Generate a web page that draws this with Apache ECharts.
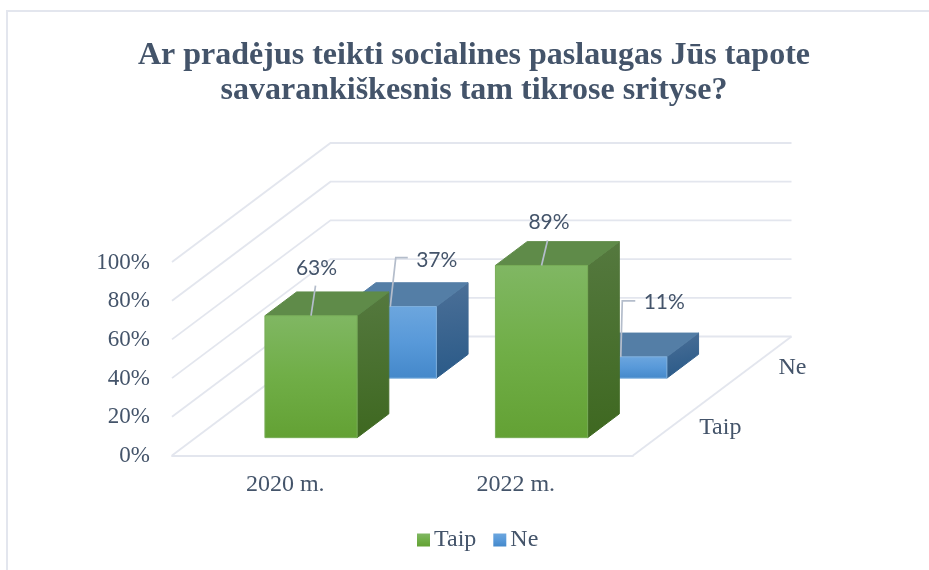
<!DOCTYPE html>
<html><head><meta charset="utf-8">
<style>html,body{margin:0;padding:0;background:#fff}#c{width:929px;height:570px}</style>
<script src="https://cdn.jsdelivr.net/npm/echarts@6/dist/echarts.min.js"></script>
</head><body><div id="c"></div>
<script>
const titleText = 'Ar pradėjus teikti socialines paslaugas Jūs tapote\nsavarankiškesnis tam tikrose srityse?';
const categories = ['2020 m.', '2022 m.'];
const depthRows = ['Taip', 'Ne'];
const taipValues = [63, 89];
const neValues = [37, 11];
const yTicks = [0, 20, 40, 60, 80, 100];

const DX = 158.5, DY = 119, BAR_W = 0.4, BAR_D = 0.2;
const TEXT = '#44546A', GRID = '#E3E6EE', SERIF = '"Liberation Serif"', SANS = 'Lato';
const lg = (stops, x2, y2) => new echarts.graphic.LinearGradient(0, 0, x2 || 0, y2 === undefined ? 1 : y2,
  stops.map((c, i) => ({offset: i / (stops.length - 1), color: c})));

const palette = {
  Taip: {front: ['#80B763', '#70AE47', '#63A134'], top: '#5F8B49', side: ['#55793F', '#3E6820'], edge: '#78AD58'},
  Ne: {front: ['#6CA6DE', '#5899D9', '#4488CA'], top: '#547EA6', side: ['#4C7098', '#2A5A88'], edge: '#7FB0DD'}
};
// Leader-line and label offsets from the top-centre of each bar's front face
const leaders = {
  Taip: [{pts: [[4.5, -30]], lab: [5.5, -48]}, {pts: [[6, -25]], lab: [7.5, -43]}],
  Ne: [{pts: [[5.5, -49], [17.5, -49]], lab: [46.5, -46]}, {pts: [[1.5, -56], [14.5, -56]], lab: [43.5, -55]}]
};

function barSeries(name, rowIndex, values) {
  const pal = palette[name], ld = leaders[name];
  return {
    type: 'custom', name, coordinateSystem: 'cartesian2d', clip: false,
    z: 3 - rowIndex,
    itemStyle: {color: lg(pal.front)},
    data: values.map((v, i) => [i, v]),
    encode: {x: 0, y: 1},
    renderItem(params, api) {
      const i = api.value(0), v = api.value(1);
      const band = api.size([1, 0])[0];
      const t = (rowIndex + 0.5) / 2 - BAR_D / 2;
      const c0 = api.coord([i, 0]), c1 = api.coord([i, v]);
      const ox = t * DX, oy = t * DY, w = band * BAR_W;
      const x0 = c0[0] - w / 2 + ox, x1 = x0 + w, yb = c0[1] - oy, yt = c1[1] - oy;
      const dx = BAR_D * DX, dy = BAR_D * DY;
      const poly = (points, fill, stroke) => ({type: 'polygon', shape: {points},
        style: {fill, stroke: stroke || fill, lineWidth: 1}});
      const cx = (x0 + x1) / 2;
      const ldr = ld[i];
      const path = [[cx, yt]].concat(ldr.pts.map(p => [cx + p[0], yt + p[1]]));
      return {type: 'group', children: [
        poly([[x1, yb], [x1 + dx, yb - dy], [x1 + dx, yt - dy], [x1, yt]], lg(pal.side, 0.35, 1)),
        poly([[x0, yt], [x1, yt], [x1 + dx, yt - dy], [x0 + dx, yt - dy]], pal.top),
        {type: 'rect', shape: {x: x0, y: yt, width: w, height: yb - yt},
          style: {fill: lg(pal.front), stroke: pal.edge, lineWidth: 1}},
        {type: 'polyline', shape: {points: path}, style: {fill: 'none', stroke: '#B4BDCB', lineWidth: 1.7}},
        {type: 'text', x: cx + ldr.lab[0], y: yt + ldr.lab[1],
          style: {text: v + '%', fill: TEXT, font: '21px ' + SANS, align: 'center', verticalAlign: 'middle'}}
      ]};
    }
  };
}

const wallSeries = {
  type: 'custom', coordinateSystem: 'cartesian2d', clip: false, silent: true, z: 1,
  data: yTicks.map(v => [0, v]), encode: {y: 1},
  renderItem(params, api) {
    const v = api.value(1), cs = params.coordSys, y = api.coord([0, v])[1];
    const l = cs.x, r = cs.x + cs.width;
    const style = {fill: 'none', stroke: GRID, lineWidth: 1.8};
    const children = [{type: 'polyline', shape: {points: [[l, y], [l + DX, y - DY], [r + DX, y - DY]]}, style}];
    if (v === 0) children.push({type: 'polyline', shape: {points: [[r, y], [r + DX, y - DY]]}, style});
    return {type: 'group', children};
  }
};

const depthLabelSeries = {
  type: 'custom', coordinateSystem: 'cartesian2d', clip: false, silent: true, z: 2,
  data: depthRows.map((n, i) => [0, 0, i]), encode: {y: 1},
  renderItem(params, api) {
    const i = api.value(2), cs = params.coordSys, y = api.coord([0, 0])[1];
    const t = (i + 0.5) / 2;
    return {type: 'text', x: cs.x + cs.width + t * DX + 26.5, y: y - t * DY + 1.5,
      style: {text: depthRows[i], fill: TEXT, font: '24px ' + SERIF, align: 'left', verticalAlign: 'middle'}};
  }
};

const chart = echarts.init(document.getElementById('c'), null, {renderer: 'canvas'});
chart.setOption({
  animation: false,
  backgroundColor: '#fff',
  title: {text: titleText, left: 469, top: 33, textAlign: 'center',
    textStyle: {fontFamily: SERIF, fontWeight: 'bold', fontSize: 32, lineHeight: 35, color: TEXT}},
  graphic: [{type: 'polyline', silent: true, shape: {points: [[7, 570], [7, 11], [929, 11]]},
    style: {fill: 'none', stroke: GRID, lineWidth: 2}}],
  grid: {left: 172, top: 262, width: 461, height: 193.5, containLabel: false},
  xAxis: {type: 'category', data: categories,
    axisTick: {show: false}, axisLine: {show: true, lineStyle: {color: GRID, width: 1.8}},
    axisLabel: {margin: 17, fontFamily: SERIF, fontSize: 24, color: TEXT, padding: [0, 4, 0, 0]}},
  yAxis: {type: 'value', min: 0, max: 100, interval: 20,
    axisLine: {show: false}, axisTick: {show: false}, splitLine: {show: false},
    axisLabel: {margin: 22, fontFamily: SERIF, fontSize: 23, color: TEXT, formatter: '{value}%',
      verticalAlign: 'top', padding: [-11, 0, 0, 0]}},
  legend: {left: 412, top: 523, itemWidth: 13, itemHeight: 13, itemGap: 17, icon: 'rect',
    selectedMode: false, data: ['Taip', 'Ne'],
    textStyle: {fontFamily: SERIF, fontSize: 24, color: TEXT, padding: [0, 0, 0, -1]}},
  series: [wallSeries, depthLabelSeries, barSeries('Ne', 1, neValues), barSeries('Taip', 0, taipValues)]
});
</script></body></html>
